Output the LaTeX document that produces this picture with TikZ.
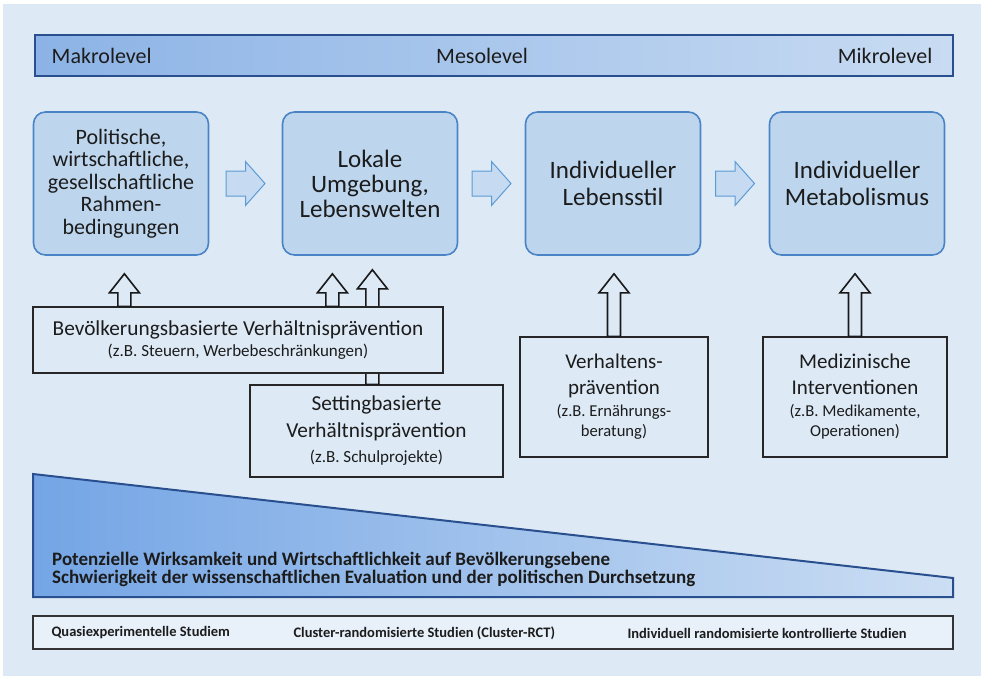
\documentclass[tikz,border=0pt]{standalone}
\usepackage{fontspec}
\setmainfont{Carlito}
\usepackage{tikz}
\usetikzlibrary{calc}

\definecolor{bgblue}{HTML}{DDEAF6}
\definecolor{barleft}{HTML}{8CB3E6}
\definecolor{barright}{HTML}{C8DBF2}
\definecolor{darkline}{HTML}{2A4F8F}
\definecolor{boxfill}{HTML}{BDD6EE}
\definecolor{boxline}{HTML}{4A84C6}
\definecolor{flowfill}{HTML}{C6DBF1}
\definecolor{flowline}{HTML}{5B9BD5}
\definecolor{wedgeleft}{HTML}{74A5E5}
\definecolor{wedgeright}{HTML}{CCDEF3}
\definecolor{studyfill}{HTML}{E8F0FA}
\definecolor{ink}{HTML}{1C1C1C}

% hollow block arrow pointing right, centred between two boxes
\newcommand\flowarrow[2]{%
  \draw[flowarr] let \p1=($(#1.east)!0.5!(#2.west)$) in
    (\x1-19.5pt,\y1+12.5pt) -- (\x1,\y1+12.5pt) -- (\x1,\y1+22pt)
    -- (\x1+19.5pt,\y1) -- (\x1,\y1-22pt) -- (\x1,\y1-12.5pt)
    -- (\x1-19.5pt,\y1-12.5pt) -- cycle;}

% hollow arrow pointing up: base point, target anchor, gap below target
\newcommand\liftarrow[3]{%
  \draw[liftarr] let \p1=(#1), \p2=(#2) in
    (\x1-6.5pt,\y1) -- (\x1-6.5pt,\y2-#3pt-19pt) -- (\x1-15pt,\y2-#3pt-19pt)
    -- (\x1,\y2-#3pt) -- (\x1+15pt,\y2-#3pt-19pt) -- (\x1+6.5pt,\y2-#3pt-19pt)
    -- (\x1+6.5pt,\y1) -- cycle;}

\begin{document}
\begin{tikzpicture}[x=1pt,y=-1pt,
  every node/.style={text=ink},
  levelbar/.style={draw=darkline, line width=1.6pt, left color=barleft, right color=barright,
    minimum width=918pt, minimum height=41pt, inner sep=0pt},
  leveltxt/.style={font=\fontsize{22}{22}\selectfont},
  topbox/.style={draw=boxline, fill=boxfill, line width=1.6pt, rounded corners=12pt,
    minimum width=175pt, minimum height=143pt, align=center, inner sep=2pt},
  prevbox/.style={draw=black!85, fill=bgblue, line width=1.2pt, align=center, inner sep=0pt},
  flowarr/.style={draw=flowline, fill=flowfill, line width=1pt, line join=miter},
  liftarr/.style={draw=black!90, fill=bgblue, line width=1.6pt, line join=miter},
  wedgetxt/.style={anchor=base west, inner sep=0pt, font=\bfseries\fontsize{19}{19}\selectfont},
  studytxt/.style={anchor=west, font=\bfseries\fontsize{14.5}{15}\selectfont}]

% Background
\fill[white] (0,0) rectangle (986,680);
\fill[bgblue] (3,4) rectangle (981,676);

% Levels
\node[levelbar] (bar) at (494,55.5) {};
\node[leveltxt, anchor=west] (makro) at ([xshift=14pt]bar.west) {Makrolevel};
\node[leveltxt] (meso) at ([xshift=-12pt]bar.center) {Mesolevel};
\node[leveltxt, anchor=east] (mikro) at ([xshift=-18pt]bar.east) {Mikrolevel};

% Determinants
\node[topbox, font=\fontsize{22}{22.5}\selectfont] (pol) at (121,183.5)
  {Politische,\\ wirtschaftliche,\\ gesellschaftliche\\ Rahmen-\\ bedingungen};
\node[topbox, font=\fontsize{25}{25}\selectfont] (lok) at (370,183.5)
  {Lokale\\ Umgebung,\\ Lebenswelten};
\node[topbox, font=\fontsize{25}{27}\selectfont] (life) at (613,183.5)
  {Individueller\\ Lebensstil};
\node[topbox, font=\fontsize{25}{27}\selectfont] (meta) at (857,183.5)
  {Individueller\\ Metabolismus};

\flowarrow{pol}{lok}
\flowarrow{lok}{life}
\flowarrow{life}{meta}

% Prevention approaches
\node[prevbox, minimum width=253pt, minimum height=92pt, font=\fontsize{21.3}{27}\selectfont] (set) at (376.5,431)
  {Settingbasierte\\ Verhältnisprävention\\[-2pt] {\fontsize{17}{24}\selectfont (z.B. Schulprojekte)}};
\liftarrow{$(set.north west)+(123,0)$}{lok.south}{14}

\node[prevbox, minimum width=410pt, minimum height=66pt, font=\fontsize{21.3}{22}\selectfont] (bev) at (238,340)
  {Bevölkerungsbasierte Verhältnisprävention\\[-1pt] {\fontsize{17}{22}\selectfont (z.B. Steuern, Werbebeschränkungen)}};
\liftarrow{$(bev.north west)+(92,0)$}{pol.south}{18}
\liftarrow{$(bev.north west)+(300,0)$}{lok.south}{18}

\node[prevbox, minimum width=188pt, minimum height=120pt, font=\fontsize{21}{26}\selectfont] (verh) at (614,397)
  {Verhaltens-\\ prävention\\[-4pt] {\fontsize{16.6}{21}\selectfont (z.B. Ernährungs-}\\[-6pt] {\fontsize{16.6}{20}\selectfont beratung)}};
\node[prevbox, minimum width=184pt, minimum height=120pt, font=\fontsize{21}{26}\selectfont] (med) at (855,397)
  {Medizinische\\ Interventionen\\[-4pt] {\fontsize{16.6}{21}\selectfont (z.B. Medikamente,}\\[-6pt] {\fontsize{16.6}{20}\selectfont Operationen)}};
\liftarrow{verh.north}{life.south}{18}
\liftarrow{med.north}{meta.south}{18}

% Wedge
\draw[draw=darkline, line width=2pt, left color=wedgeleft, right color=wedgeright]
  (33,474) -- (953,578) -- (953,597) -- (33,597) -- cycle;
\node[wedgetxt] (gain) at (52,565.5) {Potenzielle Wirksamkeit und Wirtschaftlichkeit auf Bevölkerungsebene};
\node[wedgetxt] (effort) at (52,583.5) {Schwierigkeit der wissenschaftlichen Evaluation und der politischen Durchsetzung};

% Study designs
\node[draw=black!80, fill=studyfill, line width=1.3pt, minimum width=920pt, minimum height=33pt] (studies) at (493,632.5) {};
\node[studytxt] (quasi) at (48,633) {Quasiexperimentelle Studiem};
\node[studytxt] (crct) at (290,633) {Cluster-randomisierte Studien (Cluster-RCT)};
\node[studytxt] (rct) at (624,633) {Individuell randomisierte kontrollierte Studien};
\end{tikzpicture}
\end{document}
